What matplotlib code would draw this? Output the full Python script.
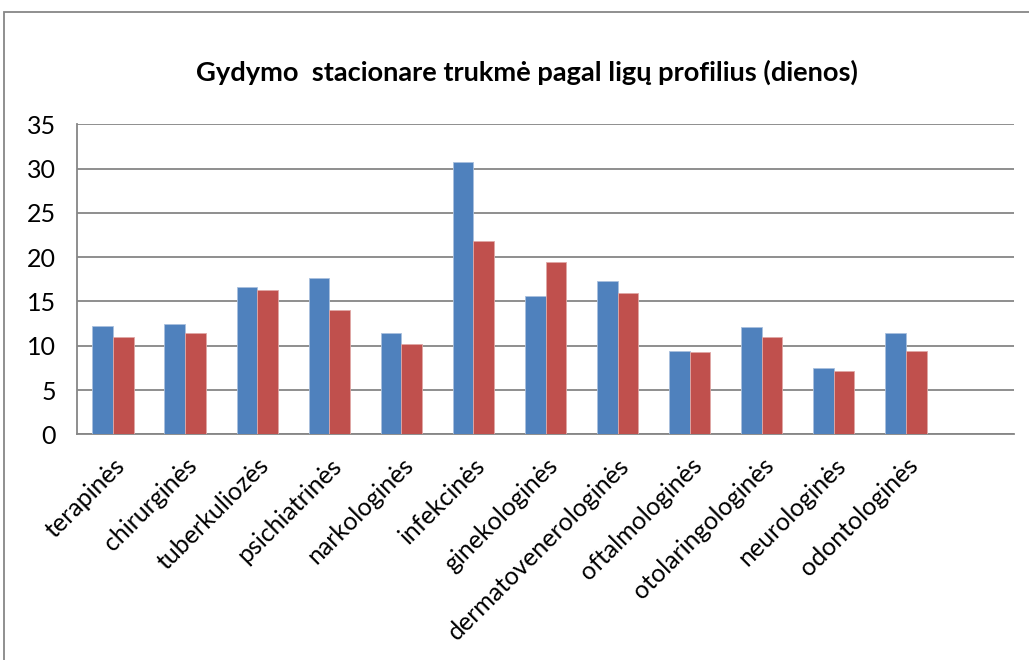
import numpy as np
import matplotlib.pyplot as plt
from matplotlib.patches import Rectangle

# ── Data ─────────────────────────────────────────────────────────────────
categories = ["terapinės", "chirurginės", "tuberkuliozės", "psichiatrinės",
              "narkologinės", "infekcinės", "ginekologinės",
              "dermatovenerologinės", "oftalmologinės", "otolaringologinės",
              "neurologinės", "odontologinės"]
series_blue = [12.2, 12.5, 16.6, 17.6, 11.4, 30.7, 15.6, 17.3, 9.4, 12.1, 7.5, 11.4]
series_red  = [11.0, 11.4, 16.3, 14.0, 10.2, 21.8, 19.5, 16.0, 9.3, 11.0, 7.2, 9.4]
y_ticks     = [0, 5, 10, 15, 20, 25, 30, 35]

BLUE = "#4F81BD"
RED  = "#C0504D"
GRID = "#868686"

plt.rcParams["font.family"] = ["Lato", "DejaVu Sans"]

W, H = 1029, 660
fig = plt.figure(figsize=(W / 100, H / 100), dpi=100)

# outer chart frame
fig.patches.append(Rectangle((4 / W, -0.05), 1.1, 1 - 12 / H + 0.05,
                             transform=fig.transFigure, fill=False,
                             edgecolor="#878787", lw=1.3))

ax = fig.add_axes([77 / W, 1 - 434.3 / H, (1014 - 77) / W, 310 / H])

x = np.arange(len(categories))
bw = 0.287
ax.bar(x - bw / 2, series_blue, bw, color=BLUE, edgecolor="#a9c0dd", lw=0.6, zorder=3)
ax.bar(x + bw / 2, series_red, bw, color=RED, edgecolor="#e0a8a6", lw=0.6, zorder=3)

ax.set_xlim(-0.5, len(categories) + 0.5)
ax.set_ylim(0, 35)
ax.set_yticks(y_ticks)
ax.yaxis.grid(True, color=GRID, lw=1.3, zorder=0)
ax.set_axisbelow(True)
for s in ["top", "right"]:
    ax.spines[s].set_visible(False)
for s in ["left", "bottom"]:
    ax.spines[s].set_color(GRID)
    ax.spines[s].set_linewidth(1.3)
ax.tick_params(axis="both", length=0, labelsize=18, colors="black")
ax.tick_params(axis="y", pad=15)

ax.set_xticks(x)
ax.set_xticklabels(categories, rotation=45, ha="right", va="top",
                   rotation_mode="anchor", fontsize=18)
ax.tick_params(axis="x", pad=14)

fig.text(527 / W, 1 - 72 / H, "Gydymo  stacionare trukmė pagal ligų profilius (dienos)",
         ha="center", va="center", fontsize=19.6, fontweight="bold")

fig.savefig("out.png", dpi=100)
